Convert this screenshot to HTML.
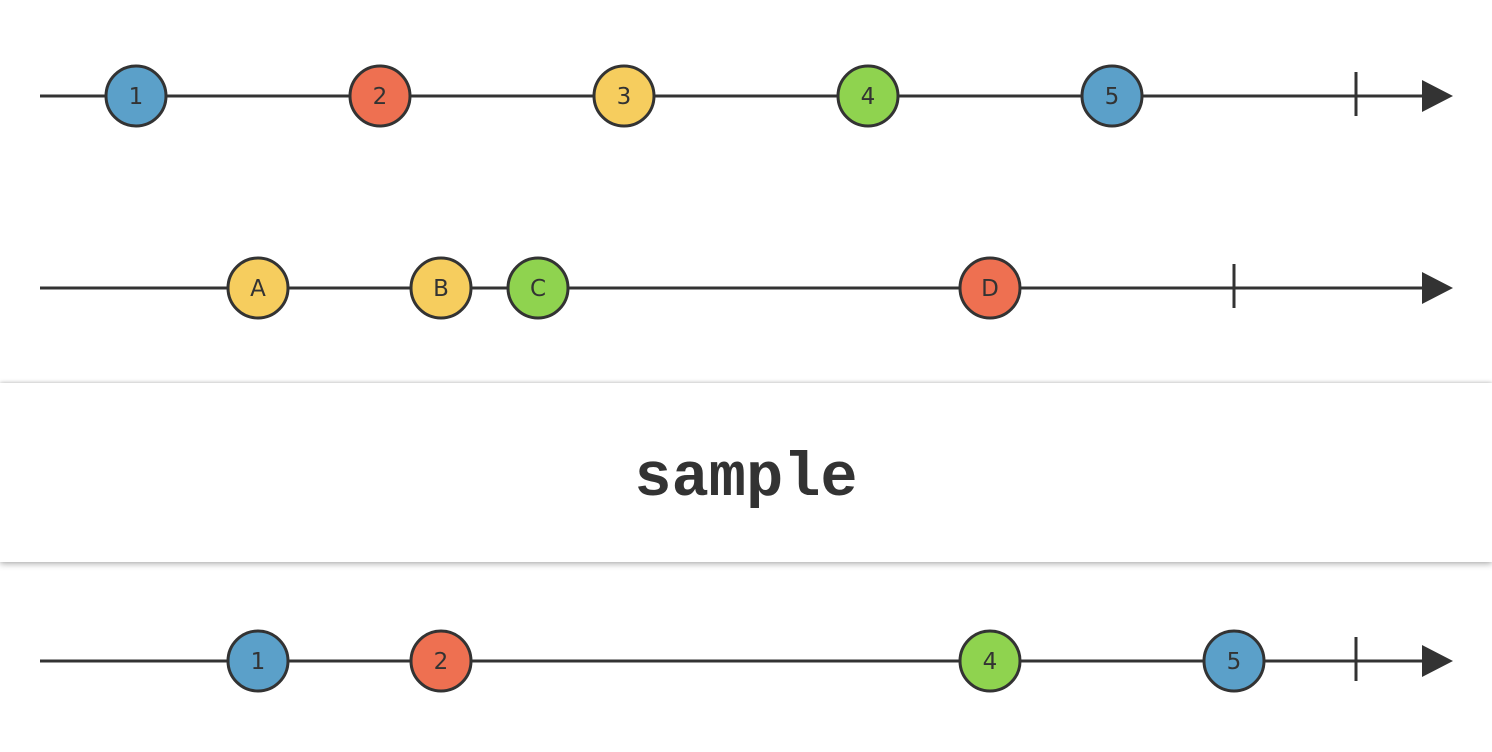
<!DOCTYPE html>
<html><head><style>
html,body{margin:0;padding:0;background:#fff;width:1492px;height:752px;overflow:hidden}
.box{position:absolute;left:0;top:383px;width:1492px;height:179px;background:#fff;box-shadow:0 2px 6px rgba(0,0,0,0.3), 0 -1px 3px rgba(0,0,0,0.12)}
</style></head><body>
<svg width="1492" height="752" style="position:absolute;left:0;top:0">
<g stroke="#333" stroke-width="3" fill="none">
<line x1="40" y1="96" x2="1430" y2="96"/><line x1="1356" y1="72" x2="1356" y2="116"/>
<line x1="40" y1="288" x2="1430" y2="288"/><line x1="1234" y1="264" x2="1234" y2="308"/>
<line x1="40" y1="661" x2="1430" y2="661"/><line x1="1356" y1="637" x2="1356" y2="681"/>
</g>
<g fill="#333">
<polygon points="1422,80 1453,96 1422,112"/>
<polygon points="1422,272 1453,288 1422,304"/>
<polygon points="1422,645 1453,661 1422,677"/>
</g>
<g stroke="#333" stroke-width="3" font-family="DejaVu Sans, Liberation Sans, sans-serif" font-size="23" text-anchor="middle">
<circle cx="136" cy="96" r="30" fill="#5ba0c9"/><circle cx="380" cy="96" r="30" fill="#ee7051"/><circle cx="624" cy="96" r="30" fill="#f6cd5e"/><circle cx="868" cy="96" r="30" fill="#8fd34f"/><circle cx="1112" cy="96" r="30" fill="#5ba0c9"/>
<circle cx="258" cy="288" r="30" fill="#f6cd5e"/><circle cx="441" cy="288" r="30" fill="#f6cd5e"/><circle cx="538" cy="288" r="30" fill="#8fd34f"/><circle cx="990" cy="288" r="30" fill="#ee7051"/>
<circle cx="258" cy="661" r="30" fill="#5ba0c9"/><circle cx="441" cy="661" r="30" fill="#ee7051"/><circle cx="990" cy="661" r="30" fill="#8fd34f"/><circle cx="1234" cy="661" r="30" fill="#5ba0c9"/>
<g stroke="none" fill="#333">
<text x="136" y="104">1</text><text x="380" y="104">2</text><text x="624" y="104">3</text><text x="868" y="104">4</text><text x="1112" y="104">5</text>
<text x="258" y="296">A</text><text x="441" y="296">B</text><text x="538" y="296">C</text><text x="990" y="296">D</text>
<text x="258" y="669">1</text><text x="441" y="669">2</text><text x="990" y="669">4</text><text x="1234" y="669">5</text>
</g>
</g>
</svg>
<div class="box"><div style="position:absolute;left:0;width:1492px;top:56px;text-align:center;font-family:'Liberation Mono',monospace;font-weight:bold;font-size:62px;line-height:80px;color:#333">sample</div></div>
</body></html>
